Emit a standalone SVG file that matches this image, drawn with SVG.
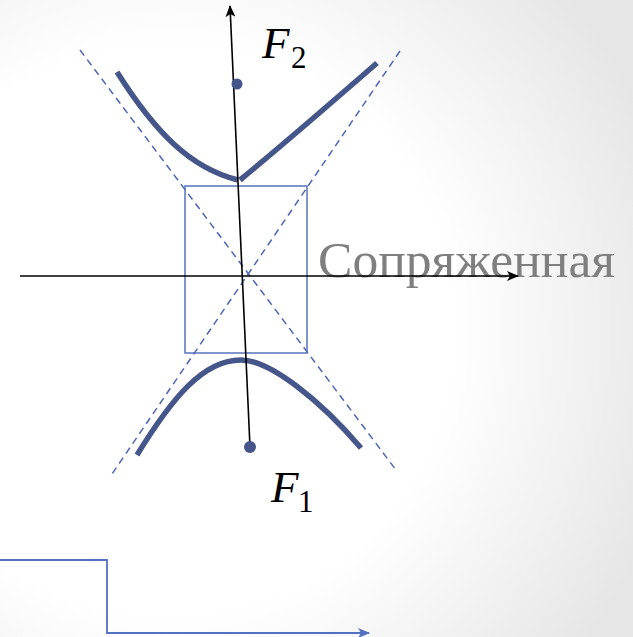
<svg xmlns="http://www.w3.org/2000/svg" width="633" height="637" viewBox="0 0 633 637">
<defs>
<radialGradient id="bg" gradientUnits="userSpaceOnUse" cx="170" cy="330" r="520">
<stop offset="0.55" stop-color="#ffffff"/>
<stop offset="1" stop-color="#e6e6e6"/>
</radialGradient>
<marker id="ah" markerWidth="12" markerHeight="10" refX="11" refY="5" orient="auto" markerUnits="userSpaceOnUse">
<path d="M0,0 L12,5 L0,10 L3,5 z" fill="#000"/>
</marker>
<marker id="ahb" markerWidth="12" markerHeight="10" refX="11" refY="5" orient="auto" markerUnits="userSpaceOnUse">
<path d="M0,0 L12,5 L0,10 L3,5 z" fill="#5470c0"/>
</marker>
<style>
.branch{fill:none;stroke:#45568a;stroke-width:5.5;stroke-linecap:butt}
.asym{fill:none;stroke:#4c66b4;stroke-width:1.5;stroke-dasharray:7,5}
.box{fill:none;stroke:#627bc0;stroke-width:1.6}
.axis{fill:none;stroke:#000;stroke-width:1.6}
.math{font-family:'Liberation Serif','DejaVu Serif',serif;fill:#000}
.conj{font-family:'Liberation Serif','Times New Roman',serif;fill:#7f7f7f}
.focus{fill:#45568a}
</style>
</defs>
<rect width="633" height="637" fill="url(#bg)"/>

<g id="label-conjugate">
<text class="conj" x="318" y="277" font-size="50" textLength="297" lengthAdjust="spacingAndGlyphs">Сопряженная</text>
</g>

<g id="box">
<rect class="box" x="185" y="186" width="122" height="167"/>
</g>

<g id="asymptotes">
<line class="asym" x1="80" y1="50" x2="396" y2="470"/>
<line class="asym" x1="400" y1="51" x2="112" y2="474"/>
</g>

<g id="upper-branch">
<path class="branch" d="M117,72 C155,132 190,168 238,180"/>
<path class="branch" d="M240,180 C262,162 300,130 377,63"/>
</g>

<g id="lower-branch">
<path class="branch" d="M137,455 C172,398 203,360 241,360 C270,360 320,400 361,448"/>
</g>

<g id="connectors">
<line class="axis" x1="250" y1="447" x2="230" y2="6" marker-end="url(#ah)"/>
<line class="axis" x1="20" y1="276" x2="518" y2="276" marker-end="url(#ah)"/>
<polyline points="0,560 107,560 107,633 369,633" fill="none" stroke="#5470c0" stroke-width="1.8" marker-end="url(#ahb)"/>
</g>

<g id="focus-F2">
<circle class="focus" cx="237" cy="84" r="5.5"/>
<text class="math" x="262" y="58" font-size="45" font-style="italic">F</text>
<text class="math" x="291" y="68" font-size="31">2</text>
</g>

<g id="focus-F1">
<circle class="focus" cx="250" cy="447" r="6"/>
<text class="math" x="271" y="502" font-size="45" font-style="italic">F</text>
<text class="math" x="298" y="512" font-size="31">1</text>
</g>
</svg>
